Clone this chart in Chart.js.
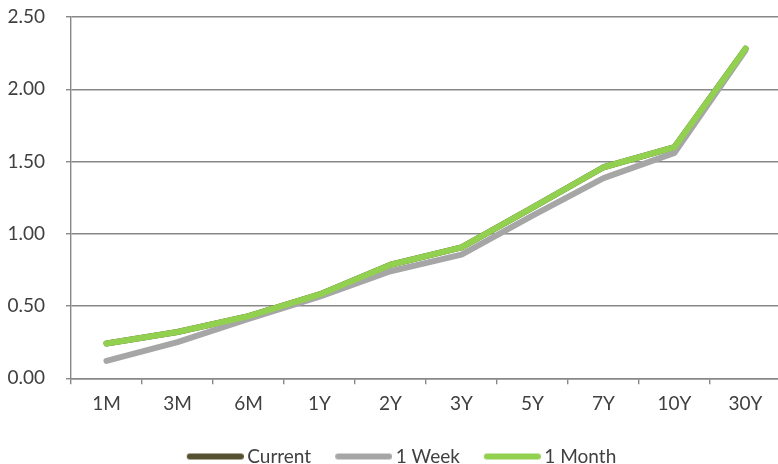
<!DOCTYPE html>
<html>
<head>
<meta charset="utf-8">
<title>Yield curve</title>
<script src="https://cdn.jsdelivr.net/npm/chart.js@4.4.1/dist/chart.umd.min.js"></script>
<style>
    html, body { margin: 0; padding: 0; background: #fff; overflow: hidden; }
    body { width: 778px; height: 464px; }
    .chart-wrap { position: relative; width: 786px; height: 464px; }
</style>
</head>
<body>
<div class="chart-wrap"><canvas id="curveChart"></canvas></div>
<script>
// ==========================================
// Data
// ==========================================
const tenors = ['1M', '3M', '6M', '1Y', '2Y', '3Y', '5Y', '7Y', '10Y', '30Y'];
const seriesNames = ['Current', '1 Week', '1 Month'];
const currentVals = [0.24, 0.32, 0.43, 0.58, 0.785, 0.905, 1.18, 1.46, 1.60, 2.28];
const weekVals = [0.12, 0.25, 0.41, 0.565, 0.74, 0.855, 1.125, 1.385, 1.56, 2.27];
const monthVals = [0.24, 0.32, 0.43, 0.58, 0.785, 0.905, 1.18, 1.46, 1.60, 2.28];
const yTicks = [0, 0.5, 1.0, 1.5, 2.0, 2.5];

const seriesColors = ['#55502f', '#a6a6a6', '#92d050'];
const gridColor = '#888888';
const textColor = '#404040';
const fontFamily = 'Lato, "Open Sans", sans-serif';

// ==========================================
// Legend swatch: a thick rounded line drawn into a small canvas
// ==========================================
const LEG_BOX = 73;     // legend box width used for layout
const LEG_START = 22;   // where the visible line starts inside the box
const LEG_LEN = 57;     // visible line length

function legendSwatch(color) {
    const c = LEG_BOX / 2;
    const half = Math.max(c - LEG_START, LEG_START + LEG_LEN - c);
    const cv = document.createElement('canvas');
    cv.width = Math.round(half * 2);
    cv.height = 8;
    const ctx = cv.getContext('2d');
    const x0 = LEG_START - (c - half);
    ctx.strokeStyle = color;
    ctx.lineWidth = 6;
    ctx.lineCap = 'round';
    ctx.beginPath();
    ctx.moveTo(x0 + 3, 4);
    ctx.lineTo(x0 + LEG_LEN - 3, 4);
    ctx.stroke();
    return cv;
}

// ==========================================
// Chart
// ==========================================
const lineDefaults = {
    borderWidth: 6,
    pointRadius: 0,
    pointHoverRadius: 0,
    tension: 0,
    fill: false,
    borderJoinStyle: 'round',
    borderCapStyle: 'round'
};

const ctx = document.getElementById('curveChart');
new Chart(ctx, {
    type: 'line',
    data: {
        labels: tenors,
        datasets: [
            { ...lineDefaults, label: seriesNames[0], data: currentVals, borderColor: seriesColors[0], backgroundColor: seriesColors[0], order: 2 },
            { ...lineDefaults, label: seriesNames[1], data: weekVals, borderColor: seriesColors[1], backgroundColor: seriesColors[1], order: 1 },
            { ...lineDefaults, label: seriesNames[2], data: monthVals, borderColor: seriesColors[2], backgroundColor: seriesColors[2], order: 0 }
        ]
    },
    options: {
        responsive: true,
        maintainAspectRatio: false,
        animation: false,
        layout: {
            padding: { top: 17, right: 5, bottom: -12, left: 0 }
        },
        plugins: {
            tooltip: { enabled: false },
            legend: {
                position: 'bottom',
                labels: {
                    usePointStyle: true,
                    pointStyleWidth: LEG_BOX,
                    boxHeight: 8,
                    padding: 2,
                    color: textColor,
                    font: { family: fontFamily, size: 19 },
                    generateLabels: function(chart) {
                        const items = Chart.defaults.plugins.legend.labels.generateLabels(chart);
                        items.sort((a, b) => a.datasetIndex - b.datasetIndex);
                        items.forEach(item => {
                            item.pointStyle = legendSwatch(seriesColors[item.datasetIndex]);
                        });
                        return items;
                    }
                }
            }
        },
        scales: {
            x: {
                offset: true,
                afterFit: function(scale) {
                    scale.height += 22;
                },
                grid: {
                    offset: true,
                    drawOnChartArea: false,
                    drawTicks: true,
                    tickLength: 6,
                    color: gridColor,
                    lineWidth: 1.4
                },
                border: { display: true, color: gridColor, width: 1.4 },
                ticks: {
                    color: textColor,
                    padding: 8,
                    maxRotation: 0,
                    font: { family: fontFamily, size: 19 }
                }
            },
            y: {
                min: yTicks[0],
                max: yTicks[yTicks.length - 1],
                afterFit: function(scale) {
                    scale.width = 71;
                    scale.paddingTop = 0;
                },
                afterBuildTicks: function(scale) {
                    scale.ticks = yTicks.map(v => ({ value: v }));
                },
                grid: {
                    color: gridColor,
                    lineWidth: 1.4,
                    tickLength: 5
                },
                border: { display: true, color: gridColor, width: 1.4 },
                ticks: {
                    color: textColor,
                    padding: 21,
                    font: { family: fontFamily, size: 19 },
                    callback: function(value) {
                        return Number(value).toFixed(2);
                    }
                }
            }
        }
    }
});
</script>
</body>
</html>
